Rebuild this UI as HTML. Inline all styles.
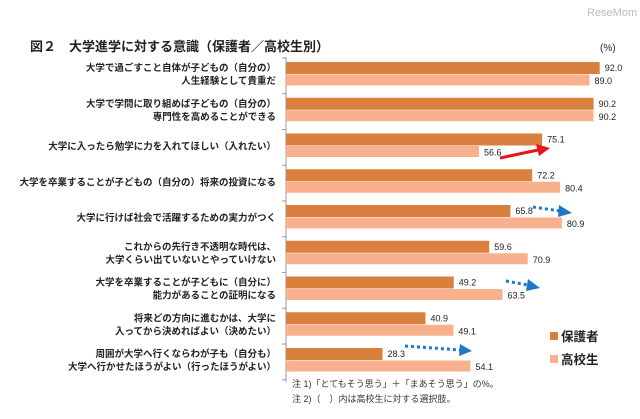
<!DOCTYPE html>
<html><head><meta charset="utf-8"><style>
body{margin:0;background:#fff;}
svg text{font-family:"Liberation Sans","Noto Sans CJK JP",sans-serif;}
</style></head><body>
<svg width="640" height="414" xmlns="http://www.w3.org/2000/svg" id="c">
<text x="587" y="16" font-size="11" fill="#bbb">ReseMom</text>
<text x="30" y="51" font-size="13" font-weight="bold" fill="#222">図２　大学進学に対する意識（保護者／高校生別）</text>
<text x="600" y="51" font-size="10" fill="#222">(%)</text>
<g id="bars"></g>
<g>
<line x1="500" y1="158" x2="538" y2="150" stroke="#e8141c" stroke-width="3"/>
<polygon points="550,148 536,144 539,156" fill="#e8141c"/>
<line x1="533" y1="207" x2="560" y2="211" stroke="#1d78c8" stroke-width="3" stroke-dasharray="3,3"/>
<polygon points="572,213 559,205 558,217" fill="#1d78c8"/>
<line x1="506" y1="281" x2="528" y2="285" stroke="#1d78c8" stroke-width="3" stroke-dasharray="3,3"/>
<polygon points="540,288 528,279 526,291" fill="#1d78c8"/>
<line x1="405" y1="346" x2="460" y2="350" stroke="#1d78c8" stroke-width="3" stroke-dasharray="3,3"/>
<polygon points="472,351 460,344 459,356" fill="#1d78c8"/>
</g>
<g>
<rect x="550" y="332" width="8" height="8" fill="#d9803f"/>
<text x="561" y="341" font-size="12.5" font-weight="bold" fill="#222">保護者</text>
<rect x="550" y="355" width="8" height="8" fill="#f8b08e"/>
<text x="561" y="364" font-size="12.5" font-weight="bold" fill="#222">高校生</text>
</g>
<text x="292" y="387" font-size="9" fill="#333">注 1)「とてもそう思う」＋「まあそう思う」の%。</text>
<text x="292" y="402" font-size="9" fill="#333">注 2)（　）内は高校生に対する選択肢。</text>
</svg>
<script>
const categories=[
["大学で過ごすこと自体が子どもの（自分の）","人生経験として貴重だ"],
["大学で学問に取り組めば子どもの（自分の）","専門性を高めることができる"],
["大学に入ったら勉学に力を入れてほしい（入れたい）"],
["大学を卒業することが子どもの（自分の）将来の投資になる"],
["大学に行けば社会で活躍するための実力がつく"],
["これからの先行き不透明な時代は、","大学くらい出ていないとやっていけない"],
["大学を卒業することが子どもに（自分に）","能力があることの証明になる"],
["将来どの方向に進むかは、大学に","入ってから決めればよい（決めたい）"],
["周囲が大学へ行くならわが子も（自分も）","大学へ行かせたほうがよい（行ったほうがよい）"]];
const parentVals=[92.0,90.2,75.1,72.2,65.8,59.6,49.2,40.9,28.3];
const studentVals=[89.0,90.2,56.6,80.4,80.9,70.9,63.5,49.1,54.1];
const x0=286,k=3.41,top0=62,pitch=35.75;
const xs=v=>x0+v*k, ys=i=>top0+i*pitch;
const g=document.getElementById('bars');
const NS='http://www.w3.org/2000/svg';
function mk(t,a){const e=document.createElementNS(NS,t);for(const n in a)e.setAttribute(n,a[n]);g.appendChild(e);return e;}
const ax=mk('line',{x1:x0,y1:57,x2:x0,y2:382,stroke:'#999','stroke-width':1});


for(let i=0;i<=categories.length;i++){
 const y=ys(i)-4;
 const t=mk('line',{x1:x0-4,y1:y,x2:x0,y2:y,stroke:'#999'});
 
 
}
categories.forEach((c,i)=>{
 const y=ys(i);
 const b1=mk('rect',{x:x0,y:y,width:xs(parentVals[i])-x0,height:12,fill:'#d9803f'});
 
 
 const b2=mk('rect',{x:x0,y:y+12.5,width:xs(studentVals[i])-x0,height:11,fill:'#f8b08e'});
 
 
 const l1=mk('text',{x:xs(parentVals[i])+5,y:y+9,'font-size':9,fill:'#222'});l1.textContent=parentVals[i].toFixed(1);
 
 
 const l2=mk('text',{x:xs(studentVals[i])+5,y:y+22,'font-size':9,fill:'#222'});l2.textContent=studentVals[i].toFixed(1);
 
 
 c.forEach((s,j)=>{
  const yy=c.length==1?y+16:y+9+j*13;
  const t=mk('text',{x:x0-10,y:yy,'font-size':9.5,'font-weight':'bold','text-anchor':'end',fill:'#222'});t.textContent=s;
  
  
 });
});
</script>
</body></html>
